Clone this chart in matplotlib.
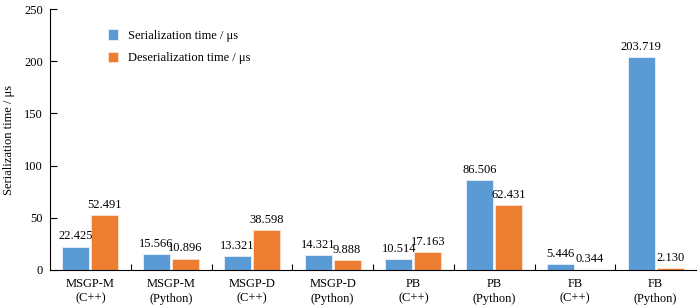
import matplotlib
matplotlib.use("Agg")
import matplotlib.pyplot as plt
import numpy as np

categories = ["MSGP-M\n(C++)", "MSGP-M\n(Python)", "MSGP-D\n(C++)", "MSGP-D\n(Python)",
              "PB\n(C++)", "PB\n(Python)", "FB\n(C++)", "FB\n(Python)"]
ser = [22.425, 15.566, 13.321, 14.321, 10.514, 86.506, 5.446, 203.719]
deser = [52.491, 10.896, 38.598, 9.888, 17.163, 62.431, 0.344, 2.130]
ser_labels = ["22.425", "15.566", "13.321", "14.321", "10.514", "86.506", "5.446", "203.719"]
deser_labels = ["52.491", "10.896", "38.598", "9.888", "17.163", "62.431", "0.344", "2.130"]

plt.rcParams['font.family'] = ['Liberation Serif', 'DejaVu Serif']
fs = 9
fig = plt.figure(figsize=(7, 3.06), dpi=100)
ax = fig.add_axes([50/700, 1-270/306, 646/700, 261/306])

x = np.arange(len(categories))
w = 0.335
off = 0.18
ax.bar(x - off, ser, w, color='#5B9BD5', edgecolor='#E8F0FA', linewidth=0.6,
       label='Serialization time / μs')
ax.bar(x + off, deser, w, color='#ED7D31', edgecolor='#FBE3D3', linewidth=0.6,
       label='Deserialization time / μs')
for xi, v, s in zip(x - off, ser, ser_labels):
    ax.annotate(s, (xi, v), xytext=(0, 3), textcoords='offset points',
                ha='center', va='bottom', fontsize=fs)
for xi, v, s in zip(x + off, deser, deser_labels):
    ax.annotate(s, (xi, v), xytext=(0, 3), textcoords='offset points',
                ha='center', va='bottom', fontsize=fs)

ax.set_xlim(-0.5, len(categories) - 0.5)
ax.set_ylim(0, 250)
ax.set_yticks([0, 50, 100, 150, 200, 250])
ax.set_xticks(x)
ax.set_xticklabels(categories, fontsize=fs, linespacing=1.25)
ax.set_xticks(np.arange(0.5, len(categories) - 1, 1), minor=True)
ax.tick_params(axis='x', which='major', length=0, pad=6)
ax.tick_params(axis='x', which='minor', direction='in', length=4, width=0.8)
ax.tick_params(axis='y', direction='in', length=5, width=0.8, labelsize=fs, pad=5)
ax.spines['top'].set_visible(False)
ax.spines['right'].set_visible(False)
ax.set_ylabel('Serialization time / μs', fontsize=fs)
ax.yaxis.set_label_coords(-0.054, 0.5)
ax.legend(loc='upper left', bbox_to_anchor=(0.072, 0.965), frameon=False, fontsize=fs,
          handlelength=0.8, handleheight=0.9, handletextpad=0.8, labelspacing=0.8)
fig.savefig('out.png', dpi=100)
